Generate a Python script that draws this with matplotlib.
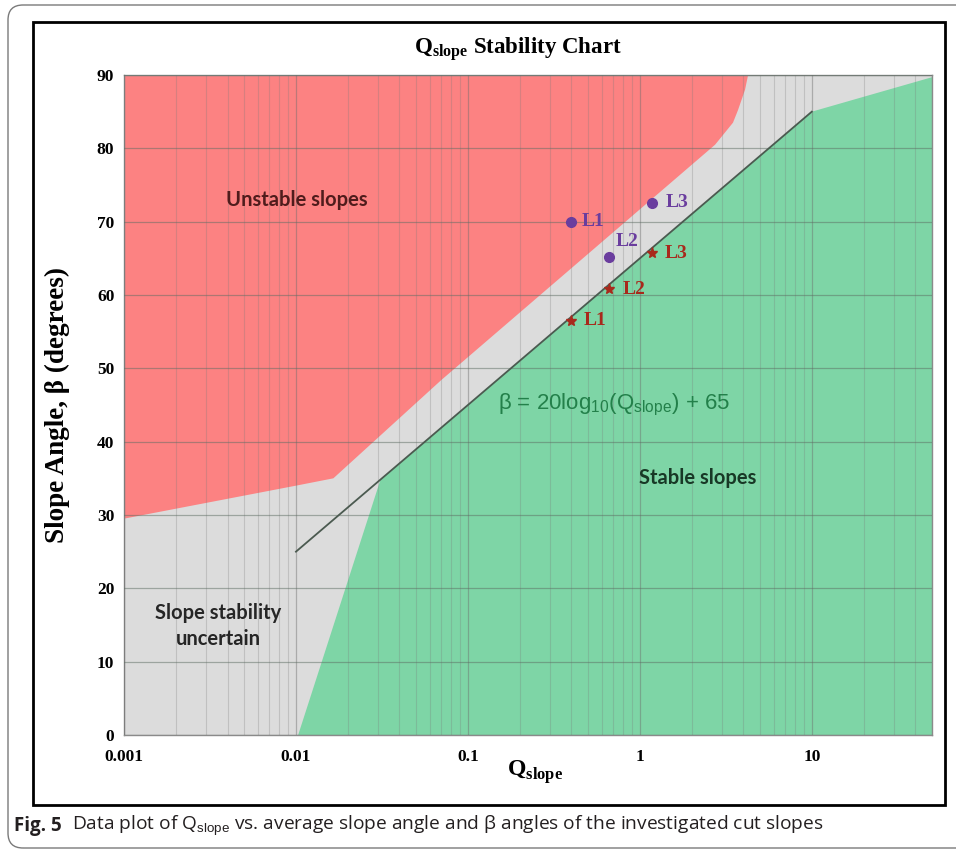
import matplotlib
matplotlib.use("Agg")
import matplotlib.pyplot as plt
from matplotlib.patches import FancyBboxPatch, Rectangle
from matplotlib.ticker import LogLocator, NullFormatter, FixedLocator
import numpy as np

plt.rcParams['mathtext.fontset'] = 'custom'
plt.rcParams['mathtext.rm'] = 'Liberation Serif'
plt.rcParams['mathtext.bf'] = 'Liberation Serif:bold'
plt.rcParams['mathtext.sf'] = 'Liberation Sans'

# zone outlines (Q_slope, slope angle in degrees)
unstable_q = [0.001, 0.001, 0.01, 0.0165, 0.07, 2.74, 3.48, 3.72, 4.09, 4.26]
unstable_b = [90, 29.5, 34, 35, 48.4, 80.5, 83.5, 85.2, 88.0, 90]
stable_q = [0.0103, 0.031, 10, 50, 50]
stable_b = [0, 34.8, 85, 89.7, 0]

# range of the beta = 20 log10(Q) + 65 line
line_q = [0.01, 10]

# cut slopes
sites = ['L1', 'L2', 'L3']
q_values = [0.40, 0.66, 1.18]
avg_slope = [70.0, 65.2, 72.6]
beta_angle = [56.5, 60.8, 65.7]

x_ticks = [0.001, 0.01, 0.1, 1, 10]
x_labels = ['0.001', '0.01', '0.1', '1', '10']
y_ticks = list(range(0, 91, 10))

grey = '#dcdcdc'
red = '#fc8282'
green = '#7ed5a6'
purple = '#6a3d9e'
rust = '#a8291c'

W, H = 956, 851
fig = plt.figure(figsize=(W / 100, H / 100), dpi=100)
ax = fig.add_axes([124 / W, 1 - 735 / H, 808 / W, 660 / H])
ax.set_xscale('log')
ax.set_xlim(0.001, 50)
ax.set_ylim(0, 90)
ax.set_facecolor(grey)

ax.fill(unstable_q, unstable_b, color=red, lw=0, zorder=1)
ax.fill(stable_q, stable_b, color=green, lw=0, zorder=1)

lq = np.array(line_q)
ax.plot(lq, 20 * np.log10(lq) + 65, color='#4b5a50', lw=1.3, zorder=3)

# grid drawn over the coloured zones
ax.xaxis.set_major_locator(FixedLocator(x_ticks))
ax.xaxis.set_minor_locator(LogLocator(base=10, subs=range(2, 10)))
ax.xaxis.set_minor_formatter(NullFormatter())
ax.set_xticklabels(x_labels)
ax.set_yticks(y_ticks)
ax.set_axisbelow(False)
ax.grid(axis='x', which='major', color='#6e6e6e', alpha=0.45, lw=0.9)
ax.grid(axis='x', which='minor', color='#7a7a7a', alpha=0.28, lw=0.8)
ax.grid(axis='y', which='major', color='#5e6e64', alpha=0.5, lw=0.9)

ax.tick_params(which='both', length=0)
ax.tick_params(axis='y', pad=7)
ax.tick_params(axis='x', pad=10)
for lab in ax.get_xticklabels() + ax.get_yticklabels():
    lab.set_fontfamily('Liberation Serif')
    lab.set_fontweight('bold')
    lab.set_fontsize(12.5)
for s in ax.spines.values():
    s.set_color('#8a8a8a')
    s.set_linewidth(1.0)

# points and labels
ax.plot(q_values, avg_slope, 'o', color=purple, ms=7, zorder=5)
ax.plot(q_values, beta_angle, '*', color=rust, ms=8, zorder=5)
circle_off = [(7, 0), (5, 11), (10, 0)]
star_off = [(9, 0), (10, 0), (9, 0)]
lab_kw = dict(textcoords='offset points', ha='left', va='center',
              fontfamily='Liberation Serif', fontweight='bold', fontsize=14)
for name, q, a, b, co, so in zip(sites, q_values, avg_slope, beta_angle,
                                 circle_off, star_off):
    ax.annotate(name, (q, a), xytext=co, color=purple, **lab_kw)
    ax.annotate(name, (q, b), xytext=so, color=rust, **lab_kw)

# zone names
zone_kw = dict(transform=ax.transAxes, ha='center', va='center',
               fontfamily='Lato', fontweight='bold', fontsize=14.5)
ax.text((297 - 124) / 808, (735 - 200) / 660, 'Unstable slopes',
        color='#4f1c1c', **zone_kw)
ax.text((698 - 124) / 808, (735 - 478) / 660, 'Stable slopes',
        color='#183826', **zone_kw)
ax.text((218 - 124) / 808, (735 - 626) / 660, 'Slope stability\nuncertain',
        color='#262626', linespacing=1.35, **zone_kw)
ax.text((614 - 124) / 808, (735 - 405) / 660,
        r'β = 20log$_{\mathsf{10}}$(Q$_{\mathsf{slope}}$) + 65',
        transform=ax.transAxes, ha='center', va='center',
        fontfamily='Liberation Sans', fontsize=16, color='#23804a')

# axis titles
ax.text((535 - 124) / 808, (735 - 772) / 660, r'$\mathbf{Q}_{\mathbf{slope}}$',
        transform=ax.transAxes, ha='center', va='center', fontsize=17)
ax.set_ylabel('Slope Angle, β (degrees)', fontfamily='Liberation Serif',
              fontweight='bold', fontsize=19.5)
ax.yaxis.set_label_coords((70 - 124) / 808, 0.5)

fig.text(518 / W, 1 - 50 / H,
         r'$\mathbf{Q}_{\mathbf{slope}}$ Stability Chart',
         ha='center', va='center', fontfamily='Liberation Serif',
         fontweight='bold', fontsize=16.5)

# frames
inch = fig.dpi_scale_trans
outer = FancyBboxPatch((0.08, 0.03), 9.9, 8.43,
                       boxstyle='round,pad=0,rounding_size=0.15',
                       transform=inch, fill=False, ec='#7a7a7a', lw=1.0)
inner = Rectangle((0.33, 0.46), 9.12, 7.83, transform=inch,
                  fill=False, ec='black', lw=2.0)
fig.add_artist(outer)
fig.add_artist(inner)

# caption
fig.text(14 / W, 1 - 826 / H, 'Fig. 5', ha='left', va='center',
         fontfamily='Open Sans', fontweight='bold', fontsize=13.5,
         color='#231f20')
fig.text(72 / W, 1 - 826 / H,
         r'Data plot of Q$_{\mathsf{slope}}$ vs. average slope angle and '
         r'β angles of the investigated cut slopes',
         ha='left', va='center', fontfamily='Open Sans', fontsize=13.8,
         color='#231f20')

fig.savefig('out.png', dpi=100)
